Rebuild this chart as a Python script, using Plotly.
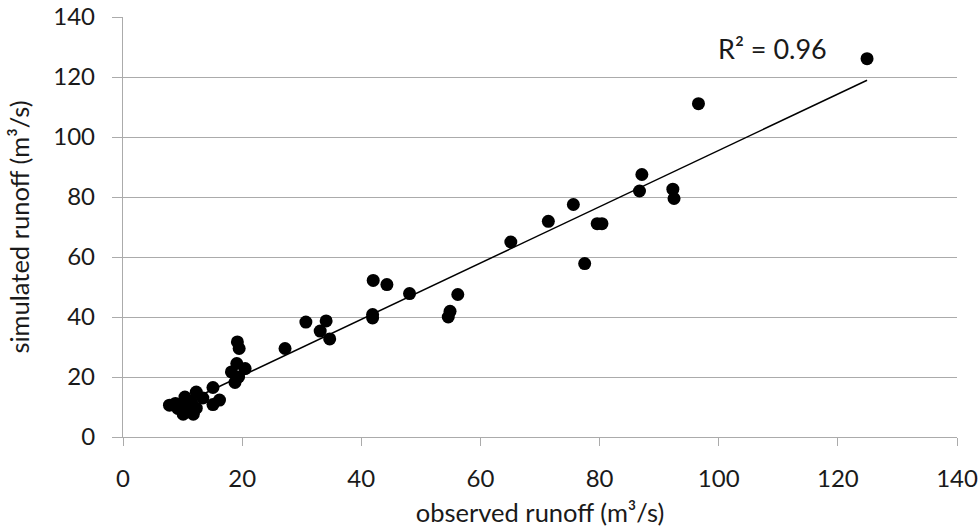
import plotly.graph_objects as go

# observed vs simulated runoff (m3/s)
observed = [7.8, 8.8, 9.2, 10.1, 10.4, 10.6, 11.5, 11.8, 12.3, 12.3, 13.4,
            15.1, 15.1, 16.2, 18.2, 18.8, 19.4, 19.1, 20.5, 19.5, 19.2,
            27.2, 30.7, 33.1, 34.1, 34.7, 41.9, 41.9, 42.0, 44.3, 48.1,
            54.6, 54.9, 56.2,
            65.1, 71.4, 75.6, 77.5, 79.6, 80.4, 86.7, 87.1, 92.3, 92.5,
            96.6, 124.9]
simulated = [10.6, 11.2, 9.5, 7.6, 13.3, 10.3, 11.8, 7.6, 9.6, 15.0, 13.0,
             10.8, 16.5, 12.3, 21.7, 18.2, 20.0, 24.5, 22.8, 29.5, 31.7,
             29.5, 38.3, 35.3, 38.7, 32.7, 40.8, 39.7, 52.2, 50.8, 47.8,
             40.0, 41.9, 47.5,
             65.0, 71.9, 77.5, 57.8, 71.1, 71.1, 82.0, 87.5, 82.6, 79.5,
             111.1, 126.1]

# linear trendline endpoints
trend_x = [7.8, 124.9]
trend_y = [9.0, 118.9]

r2_label = "R² = 0.96"
ticks = [0, 20, 40, 60, 80, 100, 120, 140]

FONT = "Lato, Open Sans, sans-serif"
TXT = "#1a1a1a"
GRID = "#ababab"

fig = go.Figure()
fig.add_trace(go.Scatter(
    x=trend_x, y=trend_y, mode="lines",
    line=dict(color="black", width=1.5), hoverinfo="skip", showlegend=False))
fig.add_trace(go.Scatter(
    x=observed, y=simulated, mode="markers",
    marker=dict(color="black", size=13, line=dict(width=0)),
    showlegend=False))

fig.add_annotation(x=109, y=129.5, xref="x", yref="y", text=r2_label,
                   showarrow=False, font=dict(family=FONT, size=27, color=TXT),
                   xanchor="center", yanchor="middle")

fig.update_layout(
    width=978, height=528,
    margin=dict(l=123, r=21, t=17, b=91, autoexpand=False),
    paper_bgcolor="white", plot_bgcolor="white",
    font=dict(family=FONT, size=24, color=TXT),
    xaxis=dict(
        range=[0, 140], tickvals=ticks, showgrid=False, zeroline=False,
        showline=True, linecolor=GRID, linewidth=1.3, automargin=False,
        ticks="outside", ticklen=8, tickcolor=GRID, tickwidth=1.3,
        ticklabelstandoff=12,
        tickfont=dict(family=FONT, size=24, color=TXT),
        title=dict(text="observed runoff (m³/s)", standoff=13,
                   font=dict(family=FONT, size=25.5, color=TXT)),
    ),
    yaxis=dict(
        range=[0, 140], tickvals=ticks, showgrid=True, gridcolor=GRID,
        gridwidth=1.3, zeroline=False, automargin=False,
        showline=True, linecolor=GRID, linewidth=1.3,
        ticks="outside", ticklen=10, tickcolor=GRID, tickwidth=1.3,
        ticklabelstandoff=12,
        tickfont=dict(family=FONT, size=24, color=TXT),
        title=dict(text="simulated runoff (m³/s)", standoff=16,
                   font=dict(family=FONT, size=25.5, color=TXT)),
    ),
)

fig.write_html("out.html", config={"displayModeBar": False},
               post_script="document.body.style.margin='0';")
